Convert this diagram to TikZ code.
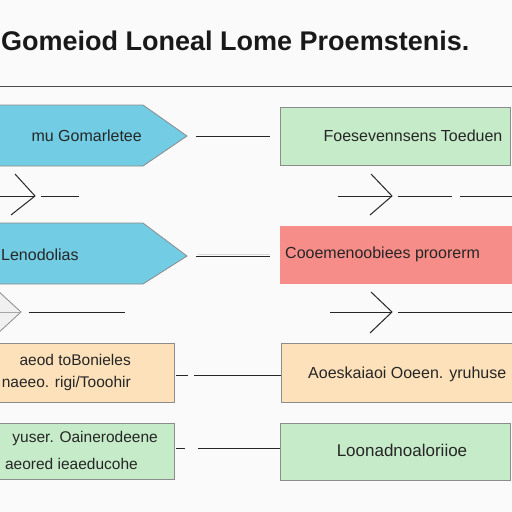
\documentclass[tikz,border=0pt]{standalone}
\usepackage{fontspec}
\setmainfont{Liberation Sans}
\begin{document}
\begin{tikzpicture}[x=1pt,y=-1pt,
  boxline/.style={draw=black!45,line width=0.8pt},
  bluefill/.style={boxline,fill=arrowblue},
  txt/.style={inner sep=0pt,text=black!85,font=\fontsize{16}{18}\selectfont},
  conn/.style={draw=black!85,line width=0.9pt},
  chev/.style={draw=black!85,line width=1pt},
]
\definecolor{arrowblue}{HTML}{72CCE3}
\definecolor{boxgreen}{HTML}{C6EBC9}
\definecolor{boxred}{HTML}{F68D88}
\definecolor{boxorange}{HTML}{FCE1BA}
\useasboundingbox (0,0) rectangle (512,512);
\fill[white!98!black] (0,0) rectangle (512,512);
\clip (0,0) rectangle (512,512);

% title
\node[inner sep=0pt,font=\fontsize{27}{30}\selectfont\bfseries,text=black!90,anchor=west] (title) at (1,41) {Gomeiod Loneal Lome Proemstenis.};
\draw[draw=black!70,line width=1pt] (0,86) -- (512,86);

% row 1
\draw[bluefill] (-5,105) -- (143,105) -- (187,136) -- (143,166) -- (-5,166) -- cycle;
\node[txt,anchor=east] (b1) at (142,136) {mu Gomarletee};
\node[boxline,fill=boxgreen,minimum width=230pt,minimum height=58pt,anchor=north west,inner sep=0pt] (g1) at (280,107) {};
\node[txt] (g1t) at (413,136) {Foesevennsens Toeduen};
\coordinate (l1a) at (196,136);
\coordinate (l1b) at (270,136);
\draw[conn] (l1a) -- (l1b);

% connectors under row 1
\coordinate (c1a) at (-2,196);
\coordinate (c1b) at (35,196);
\draw[conn] (c1a) -- (c1b);
\draw[chev] (15,174) -- (c1b) -- (11,215);
\draw[conn] (41,196) -- (79,196);
\coordinate (c2a) at (338,196);
\coordinate (c2b) at (392,196);
\draw[conn] (c2a) -- (c2b);
\draw[chev] (371,174) -- (c2b) -- (370,215);
\draw[conn] (398,196) -- (452,196);
\draw[conn] (460,196) -- (514,196);

% row 2
\draw[bluefill] (-5,223) -- (143,223) -- (187,256) -- (143,284) -- (-5,284) -- cycle;
\node[txt,anchor=west] (b2) at (1,255) {Lenodolias};
\node[fill=boxred,minimum width=240pt,minimum height=58pt,anchor=north west,inner sep=0pt] (r2) at (280,226) {};
\node[txt,anchor=west] (r2t) at (285,254) {Cooemenoobiees proorerm};
\coordinate (l2a) at (196,256);
\coordinate (l2b) at (270,256);
\draw[draw=black!15,line width=1.5pt] (198,254.5) -- (270,254.5);
\draw[conn] (l2a) -- (l2b);

% connectors under row 2
\draw[boxline,fill=black!6] (-3,290) -- (21,312) -- (-3,334) -- cycle;
\draw[draw=black!35,line width=0.6pt] (-3,312) -- (21,312);
\draw[conn] (29,312) -- (125,312);
\coordinate (c3b) at (392,312);
\draw[conn] (330,312) -- (c3b);
\draw[chev] (371,292) -- (c3b) -- (370,333);
\draw[conn] (398,312) -- (514,312);

% row 3
\node[boxline,fill=boxorange,minimum width=180pt,minimum height=59pt,anchor=north east,inner sep=0pt] (o3l) at (175,343) {};
\node[txt,anchor=east,font=\fontsize{15.5}{17}\selectfont] (o3a) at (131,360) {aeod toBonieles};
\node[txt,anchor=east,font=\fontsize{15.5}{17}\selectfont] (o3b) at (131,383) {naeeo. rigi/Tooohir};
\node[boxline,fill=boxorange,minimum width=240pt,minimum height=59pt,anchor=north west,inner sep=0pt] (o3r) at (281,343) {};
\node[txt,anchor=west] (o3t) at (308,374) {Aoeskaiaoi Ooeen. yruhuse};
\coordinate (l3a) at (194,375);
\coordinate (l3b) at (281,375);
\draw[conn] (176,375) -- (188,375);
\draw[conn] (l3a) -- (l3b);

% row 4
\node[boxline,fill=boxgreen,minimum width=180pt,minimum height=56pt,anchor=north east,inner sep=0pt] (g4l) at (175,423) {};
\node[txt,anchor=east,font=\fontsize{15.5}{17}\selectfont] (g4a) at (158,438) {yuser. Oainerodeene};
\node[txt,anchor=east,font=\fontsize{15.5}{17}\selectfont] (g4b) at (138,464) {aeored ieaeducohe};
\node[boxline,fill=boxgreen,minimum width=230pt,minimum height=57pt,anchor=north west,inner sep=0pt] (g4r) at (280,423) {};
\node[txt,font=\fontsize{17}{19}\selectfont] (g4t) at (402,450) {Loonadnoaloriioe};
\coordinate (l4a) at (198,448);
\coordinate (l4b) at (280,448);
\draw[conn] (176,448) -- (185,448);
\draw[conn] (l4a) -- (l4b);
\end{tikzpicture}
\end{document}
